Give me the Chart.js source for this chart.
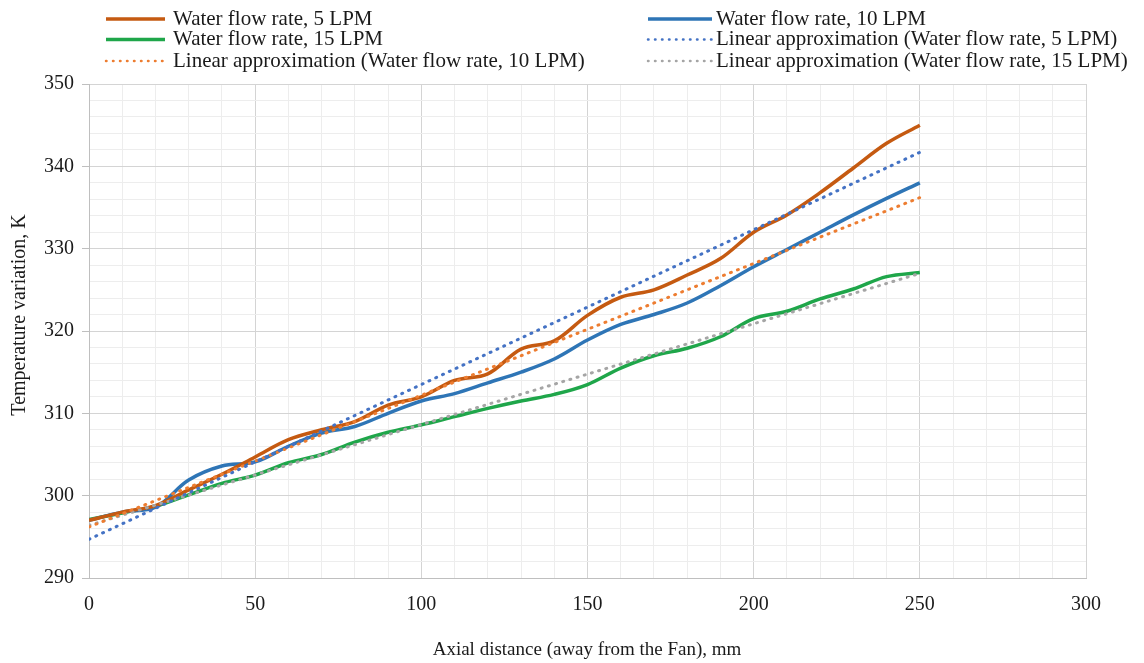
<!DOCTYPE html>
<html lang="en">
<head>
  <meta charset="UTF-8">
  <title>Temperature variation along axial distance</title>
  <script src="https://cdn.jsdelivr.net/npm/chart.js"></script>
  <style>
    html, body { margin: 0; padding: 0; background: #fff; }
    #wrap { position: relative; width: 1144px; height: 663px; }
  </style>
</head>
<body>
  <div id="wrap"><canvas id="tempChart"></canvas></div>

  <script>
    // values
    const distance = [0, 10, 20, 30, 40, 50, 60, 70, 80, 90, 100, 110, 120, 130, 140, 150, 160, 170, 180, 190, 200, 210, 220, 230, 240, 250];
    const flow5  = [297.0, 298.0, 298.8, 300.7, 302.6, 304.7, 306.8, 308.0, 309.0, 311.0, 312.0, 314.0, 314.8, 317.8, 318.8, 321.9, 324.1, 325.0, 326.8, 328.8, 332.0, 334.1, 336.8, 339.8, 342.8, 345.0];
    const flow10 = [297.0, 298.0, 298.6, 301.9, 303.6, 304.1, 306.0, 307.6, 308.4, 310.0, 311.5, 312.4, 313.7, 315.0, 316.6, 318.9, 320.8, 322.0, 323.4, 325.5, 327.8, 329.9, 332.0, 334.1, 336.1, 338.0];
    const flow15 = [297.1, 297.9, 298.7, 300.1, 301.5, 302.5, 304.0, 305.0, 306.5, 307.7, 308.6, 309.6, 310.6, 311.5, 312.3, 313.5, 315.5, 317.0, 317.9, 319.3, 321.5, 322.4, 323.9, 325.1, 326.6, 327.1];

    // trendline end points (Excel linear approximations)
    const trendX  = [0, 250];
    const trend5  = [294.7, 341.7];
    const trend10 = [296.2, 336.2];
    const trend15 = [296.4, 327.0];

    const xTitle = 'Axial distance (away from the Fan), mm';
    const yTitle = 'Temperature variation, K';

    const FONT = '"Liberation Serif", "Times New Roman", serif';
    const TEXT = '#1a1a1a';

    const pts = (xs, ys) => xs.map((x, i) => ({ x, y: ys[i] }));

    function solid(label, ys, color) {
      return {
        label, data: pts(distance, ys), borderColor: color, backgroundColor: color,
        borderWidth: 3.5, tension: 0.35, pointRadius: 0, order: 2
      };
    }
    function dotted(label, ys, color) {
      return {
        label, data: pts(trendX, ys), borderColor: color, backgroundColor: color,
        borderWidth: 3, borderDash: [1, 6.5], borderCapStyle: 'round',
        tension: 0, pointRadius: 0, order: 1
      };
    }

    const datasets = [
      solid('Water flow rate, 5 LPM', flow5, '#c55a11'),
      solid('Water flow rate, 10 LPM', flow10, '#2e75b6'),
      solid('Water flow rate, 15 LPM', flow15, '#1fa64a'),
      dotted('Linear approximation (Water flow rate, 5 LPM)', trend5, '#4472c4'),
      dotted('Linear approximation (Water flow rate, 10 LPM)', trend10, '#ed7d31'),
      dotted('Linear approximation (Water flow rate, 15 LPM)', trend15, '#a5a5a5')
    ];

    // legend in two columns, like the original
    const legendCols = [[0, 2, 4], [1, 3, 5]];

    const extras = {
      id: 'extras',
      afterDraw(chart) {
        const ctx = chart.ctx;
        const colX = [106, 648];
        const colLen = [59, 64];
        const colGap = [67, 68];
        const colFont = [21, 21];
        const rowY = [19, 39.5, 61];
        ctx.save();
        ctx.textBaseline = 'middle';
        legendCols.forEach((col, c) => {
          ctx.font = colFont[c] + 'px ' + FONT;
          col.forEach((di, r) => {
            const ds = chart.data.datasets[di];
            const x = colX[c], y = rowY[r];
            ctx.beginPath();
            ctx.strokeStyle = ds.borderColor;
            if (ds.borderDash) {
              ctx.lineWidth = 2.5;
              ctx.lineCap = 'round';
              ctx.setLineDash([0.5, 6.5]);
            } else {
              ctx.lineWidth = 3.5;
              ctx.lineCap = 'butt';
              ctx.setLineDash([]);
            }
            ctx.moveTo(x, y);
            ctx.lineTo(x + colLen[c], y);
            ctx.stroke();
            ctx.setLineDash([]);
            ctx.fillStyle = TEXT;
            ctx.textAlign = 'left';
            ctx.fillText(ds.label, x + colGap[c], y);
          });
        });

        // axis titles
        ctx.font = '19px ' + FONT;
        ctx.textAlign = 'center';
        ctx.fillText(xTitle, 587, 650);
        ctx.font = '20px ' + FONT;
        ctx.translate(20, 315);
        ctx.rotate(-Math.PI / 2);
        ctx.fillText(yTitle, 0, 0);
        ctx.restore();
      }
    };

    new Chart(document.getElementById('tempChart'), {
      type: 'line',
      data: { datasets },
      plugins: [extras],
      options: {
        responsive: true,
        maintainAspectRatio: false,
        animation: false,
        layout: { padding: { top: 84, right: 58, left: 0, bottom: 0 } },
        plugins: { legend: { display: false }, tooltip: { enabled: false } },
        scales: {
          x: {
            type: 'linear', min: 0, max: 300,
            afterFit: s => { s.height = 85; },
            ticks: {
              stepSize: 10, padding: 15, color: TEXT, maxRotation: 0,
              autoSkip: false,
              font: { family: FONT, size: 20 },
              callback: v => (v % 50 === 0 ? v : '')
            },
            grid: {
              drawTicks: false,
              color: c => (c.tick && c.tick.value % 50 === 0 ? '#d4d4d4' : '#ededed'),
              lineWidth: 1
            },
            border: { color: '#bfbfbf', width: 1 }
          },
          y: {
            min: 290, max: 350,
            afterFit: s => { s.width = 89; },
            ticks: {
              stepSize: 2, padding: 8, color: TEXT, autoSkip: false,
              font: { family: FONT, size: 20 },
              callback: v => (v % 10 === 0 ? v : '')
            },
            grid: {
              tickLength: 7,
              color: c => (c.tick && c.tick.value % 10 === 0 ? '#d4d4d4' : '#ededed'),
              tickColor: c => (c.tick && c.tick.value % 10 === 0 ? '#bfbfbf' : 'rgba(0,0,0,0)'),
              lineWidth: 1
            },
            border: { color: '#bfbfbf', width: 1 }
          }
        }
      }
    });
  </script>
</body>
</html>
